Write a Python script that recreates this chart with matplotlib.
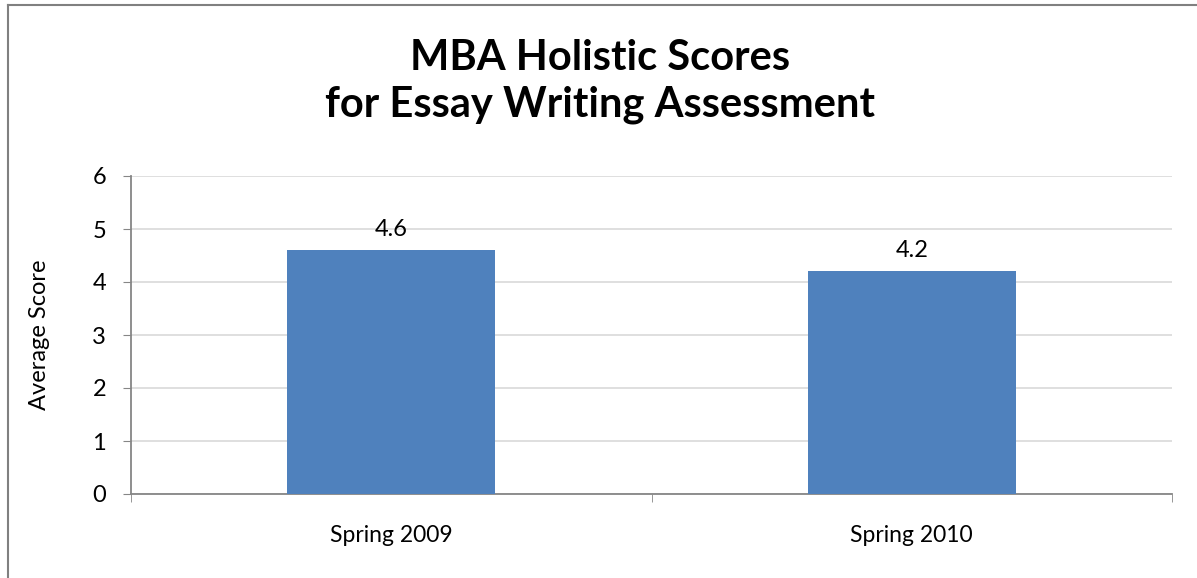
import matplotlib.pyplot as plt
from matplotlib.lines import Line2D

categories = ['Spring 2009', 'Spring 2010']
scores = [4.6, 4.2]
y_ticks = [0, 1, 2, 3, 4, 5, 6]

plt.rcParams['font.family'] = ['Lato', 'DejaVu Sans']

fig = plt.figure(figsize=(11.97, 5.78), dpi=100)
W, H = 1197, 578
ax = fig.add_axes([131 / W, 1 - 494 / H, (1172 - 131) / W, (494 - 176) / H])

x = range(len(categories))
bars = ax.bar(x, scores, width=0.4, color='#4F81BD', zorder=3)
ax.set_xlim(-0.5, 1.5)
ax.set_ylim(0, 6)
ax.set_yticks(y_ticks)
ax.set_xticks(x)
ax.set_xticklabels(categories, fontsize=16.5)
ax.tick_params(axis='y', labelsize=17, length=6, color='#868686', pad=12)
ax.tick_params(axis='x', length=0, pad=22)
# category boundary ticks
ax.set_xticks([-0.5, 0.5, 1.5], minor=True)
ax.tick_params(axis='x', which='minor', length=6, color='#868686')

ax.grid(axis='y', color='#D9D9D9', linewidth=1.2, zorder=0)
for s in ['top', 'right']:
    ax.spines[s].set_visible(False)
for s in ['left', 'bottom']:
    ax.spines[s].set_color('#868686')
    ax.spines[s].set_linewidth(1.3)

fig.text(40 / W, 1 - 335 / H, 'Average Score', rotation=90, ha='center', va='center',
         fontsize=17)

for rect, v in zip(bars, scores):
    ax.text(rect.get_x() + rect.get_width() / 2, v + 0.2, '%.1f' % v,
            ha='center', va='bottom', fontsize=17)

fig.text(600 / W, 1 - 70 / H, 'MBA Holistic Scores', ha='center', va='baseline',
         fontsize=30, fontweight='bold')
fig.text(600 / W, 1 - 117 / H, 'for Essay Writing Assessment', ha='center', va='baseline',
         fontsize=30, fontweight='bold')

# outer frame (left and top only visible)
fig.add_artist(Line2D([8 / W, 8 / W], [0, 1 - 5 / H], transform=fig.transFigure,
                      color='#808080', linewidth=1.5))
fig.add_artist(Line2D([8 / W, 1], [1 - 5 / H, 1 - 5 / H], transform=fig.transFigure,
                      color='#808080', linewidth=1.5))

fig.savefig('out.png', dpi=100)
